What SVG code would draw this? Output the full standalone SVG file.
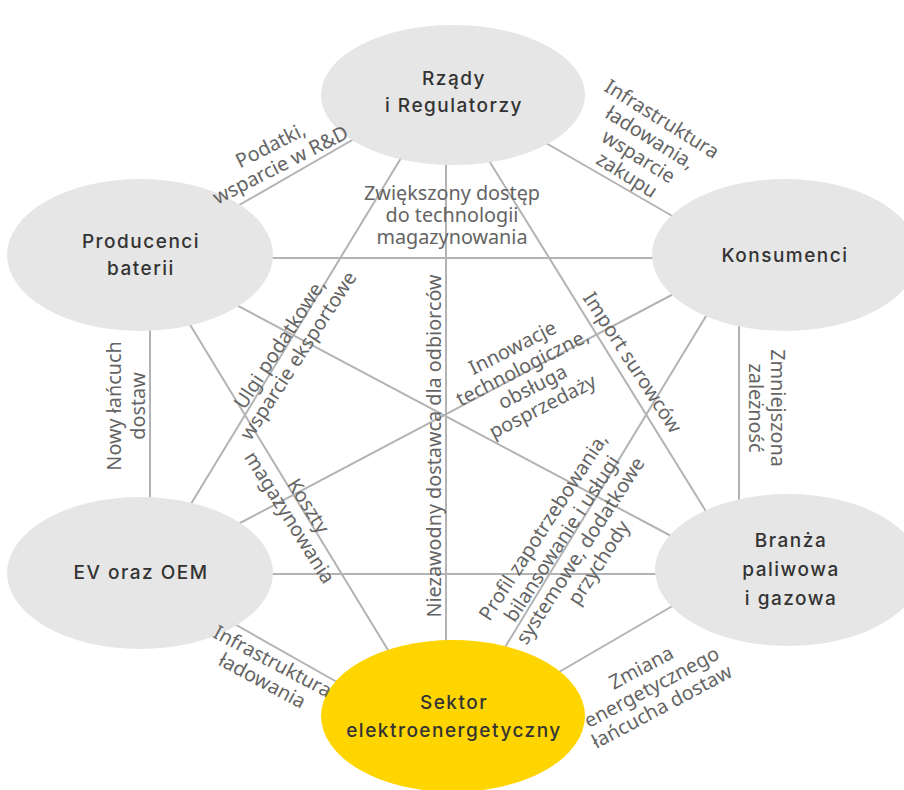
<svg xmlns="http://www.w3.org/2000/svg" width="904" height="790" viewBox="0 0 904 790">
<style>
.ln{stroke:#b3b3b3;stroke-width:2;fill:none}
.nd{fill:#e6e6e6}
.hl{fill:#ffd500}
.nt{font-family:Inter,"Noto Sans","Liberation Sans",sans-serif;font-size:19px;font-weight:500;fill:#333;text-anchor:middle;letter-spacing:1.5px}
.el{font-family:"Noto Sans","Liberation Sans",sans-serif;font-size:19.8px;fill:#646464;text-anchor:middle;dominant-baseline:central}
</style>
<rect width="904" height="790" fill="#fff"/>
<g id="connectors">
<line class="ln" x1="380" y1="124" x2="215" y2="219"/>
<line class="ln" x1="520" y1="128" x2="700" y2="232"/>
<line class="ln" x1="200" y1="258" x2="720" y2="258"/>
<line class="ln" x1="150" y1="300" x2="150" y2="530"/>
<line class="ln" x1="739" y1="300" x2="739" y2="530"/>
<line class="ln" x1="200" y1="574" x2="720" y2="574"/>
<line class="ln" x1="215" y1="613" x2="360" y2="695"/>
<line class="ln" x1="535" y1="686" x2="700" y2="590"/>
<line class="ln" x1="446" y1="120" x2="446" y2="690"/>
<line class="ln" x1="415" y1="135" x2="180" y2="522"/>
<line class="ln" x1="475" y1="138" x2="720" y2="534"/>
<line class="ln" x1="210" y1="291" x2="690" y2="546"/>
<line class="ln" x1="175" y1="300" x2="405" y2="678"/>
<line class="ln" x1="700" y1="280" x2="225" y2="531"/>
<line class="ln" x1="720" y1="293" x2="490" y2="672"/>
</g>
<g id="n-rzady"><ellipse class="nd" cx="453" cy="95" rx="132" ry="70"/><text class="nt" x="454" y="85">Rządy</text><text class="nt" x="454" y="112">i Regulatorzy</text></g>
<g id="n-producenci"><ellipse class="nd" cx="140" cy="255" rx="133" ry="76"/><text class="nt" x="141" y="248">Producenci</text><text class="nt" x="141" y="275">baterii</text></g>
<g id="n-konsumenci"><ellipse class="nd" cx="785" cy="255" rx="133" ry="76"/><text class="nt" x="785" y="262">Konsumenci</text></g>
<g id="n-ev"><ellipse class="nd" cx="140" cy="573" rx="133" ry="76"/><text class="nt" x="141" y="579">EV oraz OEM</text></g>
<g id="n-branza"><ellipse class="nd" cx="788" cy="570" rx="133" ry="76"/><text class="nt" x="791" y="547">Branża</text><text class="nt" x="791" y="576">paliwowa</text><text class="nt" x="791" y="605">i gazowa</text></g>
<g id="n-sektor"><ellipse class="hl" cx="453" cy="716" rx="132" ry="76"/><text class="nt" x="454" y="709">Sektor</text><text class="nt" x="454" y="737">elektroenergetyczny</text></g>
<g id="labels">
<text class="el" transform="translate(275,154) rotate(-27)"><tspan x="0" y="-11">Podatki,</tspan><tspan x="0" y="11">wsparcie w R&amp;D</tspan></text>
<text class="el" transform="translate(645,146) rotate(32)"><tspan x="0" y="-33">Infrastruktura</tspan><tspan x="0" y="-11">ładowania,</tspan><tspan x="0" y="11">wsparcie</tspan><tspan x="0" y="33">zakupu</tspan></text>
<text class="el" transform="translate(452,214)"><tspan x="0" y="-22">Zwiększony dostęp</tspan><tspan x="0" y="0">do technologii</tspan><tspan x="0" y="22">magazynowania</tspan></text>
<text class="el" transform="translate(288,349) rotate(-57)"><tspan x="0" y="-11">Ulgi podatkowe,</tspan><tspan x="0" y="11">wsparcie eksportowe</tspan></text>
<text class="el" transform="translate(527,376) rotate(-27)"><tspan x="0" y="-33">Innowacje</tspan><tspan x="0" y="-11">technologiczne,</tspan><tspan x="0" y="11">obsługa</tspan><tspan x="0" y="33">posprzedaży</tspan></text>
<text class="el" transform="translate(633,362) rotate(57)">Import surowców</text>
<text class="el" transform="translate(433,446) rotate(-90)">Niezawodny dostawca dla odbiorców</text>
<text class="el" transform="translate(125,406) rotate(-90)"><tspan x="0" y="-12">Nowy łańcuch</tspan><tspan x="0" y="12">dostaw</tspan></text>
<text class="el" transform="translate(768,408) rotate(90)"><tspan x="0" y="-11">Zmniejszona</tspan><tspan x="0" y="11">zależność</tspan></text>
<text class="el" transform="translate(300,511) rotate(58)"><tspan x="0" y="-11">Koszty</tspan><tspan x="0" y="11">magazynowania</tspan></text>
<text class="el" transform="translate(570,544) rotate(-57)"><tspan x="0" y="-33">Profil zapotrzebowania,</tspan><tspan x="0" y="-11">bilansowanie i usługi</tspan><tspan x="0" y="11">systemowe, dodatkowe</tspan><tspan x="0" y="33">przychody</tspan></text>
<text class="el" transform="translate(268,670) rotate(28)"><tspan x="0" y="-11">Infrastruktura</tspan><tspan x="0" y="11">ładowania</tspan></text>
<text class="el" transform="translate(651,686) rotate(-28)"><tspan x="0" y="-22">Zmiana</tspan><tspan x="0" y="0">energetycznego</tspan><tspan x="0" y="22">łańcucha dostaw</tspan></text>
</g>
</svg>
